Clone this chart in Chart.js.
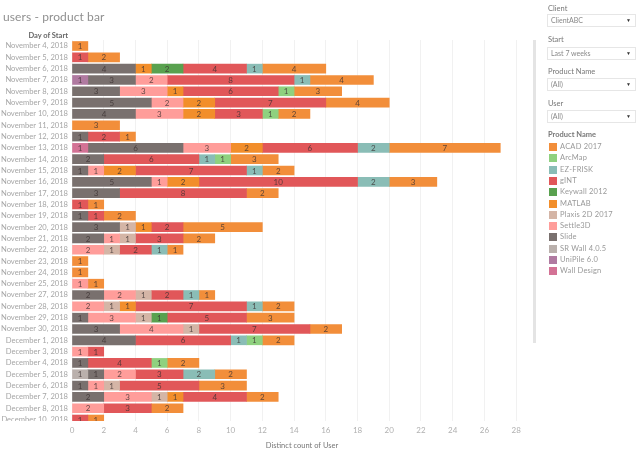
<!DOCTYPE html>
<html>
<head>
<meta charset="utf-8">
<script src="https://cdn.jsdelivr.net/npm/chart.js@4"></script>
<style>
  html, body { margin: 0; padding: 0; background: #fff; }
  body { width: 640px; height: 456px; position: relative; overflow: hidden; font-family: Lato, sans-serif; }
  canvas { position: absolute; left: 0; top: 0; }
  .abs { position: absolute; white-space: nowrap; }
  #title { left: 3px; top: 8px; font-size: 12px; line-height: 18px; color: #909090; letter-spacing: 0.1px; }
  #dayHead { right: 572px; top: 30px; font-size: 7.5px; line-height: 11px; color: #666; font-weight: 700; }
  #cut { left: 0; top: 421px; width: 72px; height: 6px; background: #fff; }
  #scrollbar { left: 533px; top: 40px; width: 3px; height: 303px; background: #e4e4e4; }
  .lab { left: 548px; font-size: 7.5px; line-height: 10px; color: #777; }
  .box { left: 547px; width: 87px; height: 11px; border: 1px solid #e6e6e6; font-size: 7px; line-height: 11px; color: #888; text-indent: 3px; }
  .box i { position: absolute; right: 4px; top: 0; font-style: normal; font-size: 5px; color: #333; text-indent: 0; }
  .sw { left: 549px; width: 8px; height: 8px; }
  .item { left: 560px; font-size: 7.5px; line-height: 10px; color: #999; letter-spacing: 0.2px; }
</style>
</head>
<body>
<canvas id="usersBar" width="640" height="456"></canvas>
<div class="abs" id="title">users - product bar</div>
<div class="abs" id="dayHead">Day of Start</div>
<div class="abs" id="cut"></div>
<div class="abs" id="scrollbar"></div>
<div id="side"></div>
<script>
const _ = null;

const days = [
  'November 4, 2018','November 5, 2018','November 6, 2018','November 7, 2018','November 8, 2018',
  'November 9, 2018','November 10, 2018','November 11, 2018','November 12, 2018','November 13, 2018',
  'November 14, 2018','November 15, 2018','November 16, 2018','November 17, 2018','November 18, 2018',
  'November 19, 2018','November 20, 2018','November 21, 2018','November 22, 2018','November 23, 2018',
  'November 24, 2018','November 25, 2018','November 27, 2018','November 28, 2018','November 29, 2018',
  'November 30, 2018','December 1, 2018','December 3, 2018','December 4, 2018','December 5, 2018',
  'December 6, 2018','December 7, 2018','December 8, 2018','December 10, 2018'
];

const wallDesign = [_,_,_,_,_,_,_,_,_,1, _,_,_,_,_,_,_,_,_,_, _,_,_,_,_,_,_,_,_,_, _,_,_,_];
const uniPile    = [_,_,_,1,_,_,_,_,_,_, _,_,_,_,_,_,_,_,_,_, _,_,_,_,_,_,_,_,_,_, _,_,_,_];
const srWall     = [_,_,_,_,_,_,_,_,_,_, _,_,_,_,_,_,_,_,_,_, _,_,_,_,_,_,_,_,_,1, _,_,_,_];
const slide      = [_,_,4,3,3,5,4,_,1,6, 2,1,5,3,_,1,3,2,_,_, _,_,2,_,1,3,4,_,1,1, 1,2,_,_];
const settle3d   = [_,_,_,2,3,2,3,_,_,3, _,1,1,_,_,_,_,1,2,_, _,1,2,2,3,4,_,1,_,2, 1,3,2,_];
const plaxis     = [_,_,_,_,_,_,_,_,_,_, _,_,_,_,_,_,1,1,1,_, _,_,1,1,1,1,_,_,_,_, 1,1,_,_];
const matlab     = [_,_,1,_,1,2,2,_,_,2, _,2,2,_,_,_,1,_,_,_, _,_,_,1,_,_,_,_,_,_, _,1,_,_];
const keywall    = [_,_,2,_,_,_,_,_,_,_, _,_,_,_,_,_,_,_,_,_, _,_,_,_,1,_,_,_,_,_, _,_,_,_];
const gint       = [_,1,4,8,6,7,3,_,2,6, 6,7,10,8,1,1,2,3,2,_, _,_,2,7,5,7,6,1,4,3, 5,4,3,1];
const ezFrisk    = [_,_,1,1,_,_,_,_,_,2, 1,1,2,_,_,_,_,_,1,_, _,_,1,1,_,_,1,_,_,2, _,_,_,_];
const arcMap     = [_,_,_,_,1,_,1,_,_,_, 1,_,_,_,_,_,_,_,_,_, _,_,_,_,_,_,1,_,1,_, _,_,_,_];
const acad       = [1,2,4,4,3,4,2,3,1,7, 3,2,3,2,1,2,5,2,1,1, 1,1,1,2,3,2,2,_,2,2, 3,2,2,1];

const xTicks = [0,2,4,6,8,10,12,14,16,18,20,22,24,26,28];

// legend order, top to bottom. bars stack the other way round
const products = [
  ['ACAD 2017', '#F28E3A', acad],
  ['ArcMap', '#8FD17F', arcMap],
  ['EZ-FRISK', '#8ABDB6', ezFrisk],
  ['gINT', '#E15759', gint],
  ['Keywall 2012', '#59A14F', keywall],
  ['MATLAB', '#F28E2B', matlab],
  ['Plaxis 2D 2017', '#D4B5A6', plaxis],
  ['Settle3D', '#FF9D9A', settle3d],
  ['Slide', '#79706E', slide],
  ['SR Wall 4.0.5', '#BAB0AC', srWall],
  ['UniPile 6.0', '#B07AA1', uniPile],
  ['Wall Design', '#D37295', wallDesign]
];

// name, shown value, label top, box top
const filters = [['Client', 'ClientABC', 4, 14], ['Start', 'Last 7 weeks', 35, 47], ['Product Name', '(All)', 67, 78], ['User', '(All)', 99, 110]];

let side = '';
filters.forEach(f => {
  side += `<div class="abs lab" style="top:${f[2]}px">${f[0]}</div>`;
  side += `<div class="abs box" style="top:${f[3]}px">${f[1]}<i>&#9660;</i></div>`;
});
side += '<div class="abs lab" style="top:130px;font-weight:700">Product Name</div>';
products.forEach((p, i) => {
  const y = 147 + i * 11.3;
  side += `<div class="abs sw" style="top:${y - 4}px;background:${p[1]}"></div>`;
  side += `<div class="abs item" style="top:${y - 5}px">${p[0]}</div>`;
});
document.getElementById('side').innerHTML = side;

const barNumbers = {
  id: 'barNumbers',
  afterDatasetsDraw(chart) {
    const c = chart.ctx, a = chart.chartArea;
    c.save();
    c.beginPath();
    c.rect(a.left, a.top, a.right - a.left, a.bottom - a.top);
    c.clip();
    c.font = '8px Lato';
    c.fillStyle = 'rgba(60,50,50,0.8)';
    c.textAlign = 'center';
    c.textBaseline = 'middle';
    chart.data.datasets.forEach((ds, d) => {
      chart.getDatasetMeta(d).data.forEach((el, i) => {
        if (ds.data[i] === null) return;
        c.fillText(ds.data[i], (el.x + el.base) / 2, el.y + 0.5);
      });
    });
    c.restore();
  }
};

new Chart(document.getElementById('usersBar').getContext('2d'), {
  type: 'bar',
  plugins: [barNumbers],
  data: {
    labels: days.map((d, i) => i),
    datasets: products.slice().reverse().map(p => ({
      label: p[0],
      data: p[2],
      backgroundColor: p[1],
      barThickness: 9
    }))
  },
  options: {
    indexAxis: 'y',
    responsive: false,
    animation: false,
    layout: { padding: { left: 0, right: 108, top: 40, bottom: 0 } },
    plugins: { legend: { display: false }, tooltip: { enabled: false } },
    scales: {
      x: {
        type: 'linear',
        stacked: true,
        min: 0,
        max: 29,
        afterBuildTicks: s => { s.ticks = xTicks.map(v => ({ value: v })); },
        afterFit: s => { s.height = 35; s.paddingLeft = 0; s.paddingRight = 0; },
        grid: { color: '#f1f1f1', drawTicks: false },
        border: { display: false },
        ticks: { color: '#b0b0b0', font: { family: 'Lato', size: 8 }, padding: 5, maxRotation: 0 },
        title: { display: true, text: 'Distinct count of User', color: '#777', font: { family: 'Lato', size: 7.5 }, padding: { top: 0, bottom: 6 } }
      },
      y: {
        type: 'linear',
        stacked: true,
        reverse: true,
        offset: false,
        min: -0.53,
        max: 33.13,
        afterBuildTicks: s => { s.ticks = days.map((d, i) => ({ value: i })); },
        afterFit: s => { s.width = 72; s.paddingTop = 0; s.paddingBottom = 0; },
        grid: { display: false, drawTicks: false },
        border: { display: false },
        ticks: {
          autoSkip: false,
          color: '#a6a6a6',
          font: { family: 'Lato', size: 7.6 },
          padding: 4,
          callback: v => days[v]
        }
      }
    }
  }
});
</script>
</body>
</html>
